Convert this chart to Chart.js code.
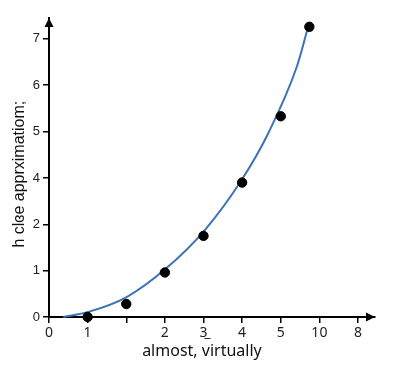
<!DOCTYPE html>
<html>
<head>
<meta charset="utf-8">
<script src="https://cdn.jsdelivr.net/npm/chart.js@4"></script>
<style>
  html, body { margin: 0; padding: 0; background: #fff; }
  #wrap { width: 400px; height: 368px; }
</style>
</head>
<body>
<div id="wrap"><canvas id="fitChart" width="400" height="368"></canvas></div>
<script>
// --- DATA ---
const pointX = [1, 2, 3, 4, 5, 6, 6.74];
const pointY = [0, 0.28, 0.96, 1.75, 2.9, 4.33, 6.26];

// fitted curve
const curveX = [0.37, 1.02, 2.01, 3.05, 4.04, 4.99, 5.68, 6.42, 6.69];
const curveY = [0, 0.11, 0.43, 1.06, 1.88, 2.96, 3.97, 5.41, 6.2];

// tick labels (by position along each axis)
const xTickLabels = ['0', '1', '', '2', '3\u0332', '4', '5', '10', '8'];
const yTickLabels = ['0', '1', '2', '4', '5', '6', '7'];

const xTitle = 'almost, virtually';
const yTitle = 'h cl\u025Ee apprximatiom;';

// --- ARROWHEADS ON THE AXES ---
const axisArrows = {
    id: 'axisArrows',
    afterDraw(chart) {
        const { ctx, chartArea: a } = chart;
        ctx.save();
        ctx.fillStyle = '#000';
        // x axis, pointing right
        ctx.beginPath();
        ctx.moveTo(a.right, a.bottom);
        ctx.lineTo(a.right - 9, a.bottom - 4.5);
        ctx.lineTo(a.right - 9, a.bottom + 4.5);
        ctx.closePath();
        ctx.fill();
        // y axis, pointing up
        ctx.beginPath();
        ctx.moveTo(a.left, a.top);
        ctx.lineTo(a.left - 4.5, a.top + 9);
        ctx.lineTo(a.left + 4.5, a.top + 9);
        ctx.closePath();
        ctx.fill();
        ctx.restore();
    }
};

const config = {
    type: 'scatter',
    data: {
        datasets: [
            {
                label: 'data',
                data: pointX.map((x, i) => ({ x: x, y: pointY[i] })),
                backgroundColor: '#000',
                borderColor: '#000',
                pointRadius: 4.7,
                pointHoverRadius: 4.7,
                clip: false
            },
            {
                label: 'fit',
                data: curveX.map((x, i) => ({ x: x, y: curveY[i] })),
                showLine: true,
                borderColor: '#3d72b4',
                borderWidth: 2,
                pointRadius: 0,
                cubicInterpolationMode: 'monotone',
                clip: false
            }
        ]
    },
    options: {
        responsive: false,
        animation: false,
        layout: { padding: { top: 18, right: 25, left: 0, bottom: 0 } },
        plugins: {
            legend: { display: false },
            tooltip: { enabled: false }
        },
        scales: {
            x: {
                type: 'linear',
                min: 0,
                max: 8.44,
                afterBuildTicks: scale => {
                    scale.ticks = xTickLabels.map((_, i) => ({ value: i }));
                },
                afterFit: scale => { scale.height = 51; },
                ticks: {
                    autoSkip: false,
                    maxRotation: 0,
                    padding: 2,
                    color: '#222',
                    font: { family: '"Noto Sans", "DejaVu Sans", sans-serif', size: 14 },
                    callback: (v) => xTickLabels[v]
                },
                grid: {
                    drawOnChartArea: false,
                    drawTicks: true,
                    tickLength: 6,
                    color: '#000',
                    lineWidth: 1.5
                },
                border: { display: true, color: '#000', width: 2 },
                title: {
                    display: true,
                    text: xTitle + '\u2002\u2002 ',
                    color: '#111',
                    font: { family: '"Noto Sans", "Open Sans", sans-serif', size: 16 },
                    padding: { top: 0, bottom: 7 }
                }
            },
            y: {
                type: 'linear',
                min: 0,
                max: 6.45,
                afterBuildTicks: scale => {
                    scale.ticks = yTickLabels.map((_, i) => ({ value: i }));
                },
                afterFit: scale => { scale.width = 49; },
                ticks: {
                    padding: 3,
                    color: '#222',
                    font: { family: '"Liberation Sans", Arial, sans-serif', size: 13 },
                    callback: (v) => yTickLabels[v]
                },
                grid: {
                    drawOnChartArea: false,
                    drawTicks: true,
                    tickLength: 6,
                    color: '#000',
                    lineWidth: 1.5
                },
                border: { display: true, color: '#000', width: 2 },
                title: {
                    display: true,
                    text: yTitle + '   ',
                    color: '#111',
                    font: { family: '"Liberation Sans", Arial, sans-serif', size: 16 },
                    padding: { top: 10, bottom: 0 }
                }
            }
        }
    },
    plugins: [axisArrows]
};

window.onload = () => {
    const ctx = document.getElementById('fitChart').getContext('2d');
    new Chart(ctx, config);
};
</script>
</body>
</html>
